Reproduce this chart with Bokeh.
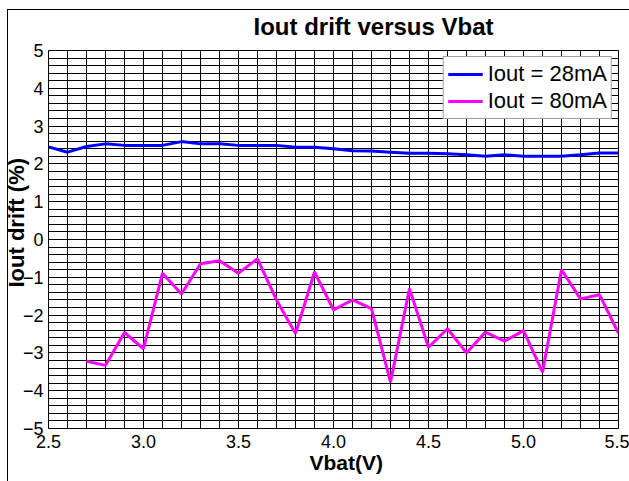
from bokeh.plotting import figure
from bokeh.models import (Range1d, SingleIntervalTicker, Legend, LegendItem, Title,
                          CustomJSTickFormatter, PrintfTickFormatter)
from bokeh.embed import file_html
from bokeh.resources import INLINE

title_text = "Iout drift versus Vbat"
x_label = "Vbat(V)"
y_label = "Iout drift (%)"
series_names = ["Iout = 28mA", "Iout = 80mA"]

vbat_28 = [2.5, 2.6, 2.7, 2.8, 2.9, 3.0, 3.1, 3.2, 3.3, 3.4, 3.5, 3.6, 3.7, 3.8, 3.9,
           4.0, 4.1, 4.2, 4.3, 4.4, 4.5, 4.6, 4.7, 4.8, 4.9, 5.0, 5.1, 5.2, 5.3, 5.4, 5.5]
drift_28 = [2.45, 2.31, 2.46, 2.53, 2.49, 2.49, 2.49, 2.59, 2.53, 2.53, 2.49, 2.49, 2.49, 2.44, 2.44,
            2.40, 2.35, 2.34, 2.31, 2.28, 2.28, 2.27, 2.24, 2.20, 2.24, 2.20, 2.20, 2.20, 2.24, 2.29, 2.29]

vbat_80 = [2.7, 2.8, 2.9, 3.0, 3.1, 3.2, 3.3, 3.4, 3.5, 3.6, 3.7, 3.8, 3.9,
           4.0, 4.1, 4.2, 4.3, 4.4, 4.5, 4.6, 4.7, 4.8, 4.9, 5.0, 5.1, 5.2, 5.3, 5.4, 5.5]
drift_80 = [-3.22, -3.33, -2.46, -2.89, -0.89, -1.44, -0.64, -0.56, -0.89, -0.51, -1.60, -2.49, -0.86,
            -1.86, -1.60, -1.83, -3.77, -1.30, -2.85, -2.36, -3.00, -2.45, -2.69, -2.41, -3.51, -0.80,
            -1.57, -1.46, -2.48]

FONT = "Liberation Sans"

p = figure(width=629, height=481, output_backend="svg", toolbar_location=None,
           x_range=Range1d(2.5, 5.5), y_range=Range1d(-5, 5),
           min_border_left=48, min_border_right=11, min_border_top=50, min_border_bottom=53)
p.border_fill_alpha = 0.0
p.background_fill_color = "white"
p.styles = {
    "background-image": "linear-gradient(#000, #000), linear-gradient(#000, #000)",
    "background-size": "1px 100%, 100% 1px",
    "background-position": "7px 9px, 7px 9px",
    "background-repeat": "no-repeat",
}

p.title.text = title_text
p.title.align = "left"
p.title.offset = 205
p.title.vertical_align = "top"
p.title.standoff = 18
p.title.text_font = FONT
p.title.text_font_size = "24px"
p.title.text_font_style = "bold"
p.title.text_color = "black"

# grids
p.xgrid.ticker = SingleIntervalTicker(interval=0.1, num_minor_ticks=0)
p.ygrid.ticker = SingleIntervalTicker(interval=0.2, num_minor_ticks=0)
for g in (p.xgrid, p.ygrid):
    g.grid_line_color = "black"
    g.grid_line_alpha = 1.0
    g.grid_line_width = 1

p.xaxis.ticker = SingleIntervalTicker(interval=0.5, num_minor_ticks=0)
p.yaxis.ticker = SingleIntervalTicker(interval=1, num_minor_ticks=0)
p.xaxis.formatter = PrintfTickFormatter(format="%.1f")
p.yaxis.formatter = CustomJSTickFormatter(
    code="return tick < 0 ? '\u2212' + Math.abs(tick).toFixed(0) : tick.toFixed(0);")
for ax in (p.xaxis, p.yaxis):
    ax.major_tick_out = 0
    ax.major_tick_in = 0
    ax.minor_tick_out = 0
    ax.minor_tick_in = 0
    ax.axis_line_color = "black"
    ax.major_label_text_font = FONT
    ax.major_label_text_font_size = "18px"
    ax.major_label_text_color = "black"
p.xaxis.major_label_standoff = 6
p.yaxis.major_label_standoff = 5

p.outline_line_color = "black"
p.outline_line_width = 1
p.outline_line_alpha = 1.0

r1 = p.line(vbat_28, drift_28, line_color="#0000FF", line_width=3)
r2 = p.line(vbat_80, drift_80, line_color="#FF00FF", line_width=3)

legend = Legend(items=[LegendItem(label=series_names[0], renderers=[r1]),
                       LegendItem(label=series_names[1], renderers=[r2])],
                location="top_right")
legend.margin = 6
legend.padding = 4
legend.spacing = 1
legend.glyph_width = 35
legend.glyph_height = 22
legend.label_height = 22
legend.label_standoff = 5
legend.label_text_line_height = 1.0
legend.label_text_font = FONT
legend.label_text_font_size = "22px"
legend.label_text_color = "black"
legend.border_line_color = "#404040"
legend.border_line_width = 1
legend.background_fill_color = "white"
legend.background_fill_alpha = 1.0
p.add_layout(legend)

xt = Title(text=x_label, align="left", offset=261, vertical_align="top", standoff=0,
           text_font=FONT, text_font_size="21px", text_font_style="bold", text_color="black")
p.add_layout(xt, "below")
yt = Title(text=y_label, align="left", offset=141, vertical_align="bottom", standoff=-18,
           text_font=FONT, text_font_size="22px", text_font_style="bold", text_color="black")
p.add_layout(yt, "left")

open("out.html", "w").write(file_html(p, INLINE))
